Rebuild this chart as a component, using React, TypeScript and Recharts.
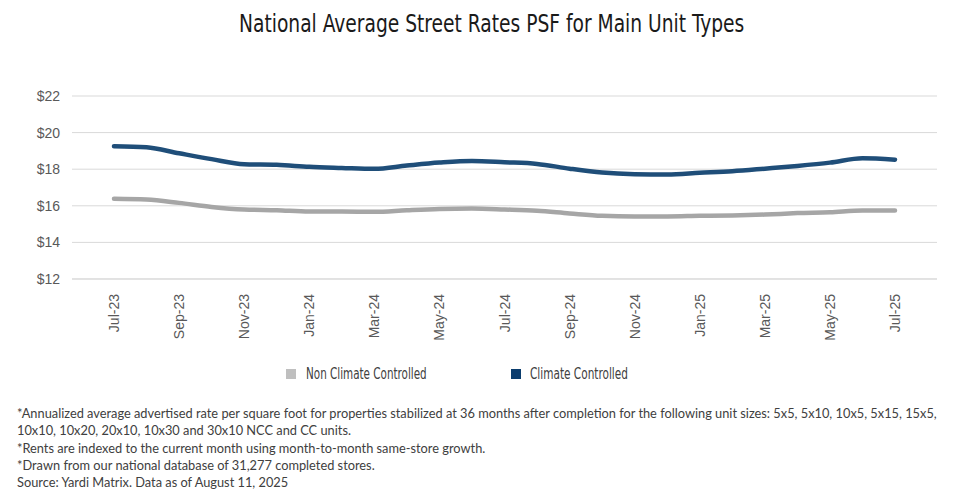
import React from "react";
import { LineChart, Line, XAxis, YAxis, CartesianGrid } from "recharts";

const months = [
  "Jul-23", "Aug-23", "Sep-23", "Oct-23", "Nov-23", "Dec-23",
  "Jan-24", "Feb-24", "Mar-24", "Apr-24", "May-24", "Jun-24",
  "Jul-24", "Aug-24", "Sep-24", "Oct-24", "Nov-24", "Dec-24",
  "Jan-25", "Feb-25", "Mar-25", "Apr-25", "May-25", "Jun-25", "Jul-25",
];

const nonClimate = [
  16.38, 16.34, 16.16, 15.94, 15.8, 15.76,
  15.69, 15.69, 15.67, 15.76, 15.83, 15.85,
  15.8, 15.73, 15.58, 15.45, 15.42, 15.42,
  15.45, 15.47, 15.52, 15.6, 15.65, 15.74, 15.74,
];

const climate = [
  19.26, 19.2, 18.87, 18.55, 18.27, 18.24,
  18.13, 18.07, 18.02, 18.2, 18.36, 18.45,
  18.38, 18.29, 18.03, 17.82, 17.73, 17.71,
  17.8, 17.89, 18.03, 18.18, 18.36, 18.6, 18.52,
];

const yTicks = [12, 14, 16, 18, 20, 22];

const titleText = "National Average Street Rates PSF for Main Unit Types";
const legendNames = ["Non Climate Controlled", "Climate Controlled"];
const notes = [
  "*Annualized average advertised rate per square foot for properties stabilized at 36 months after completion for the following unit sizes: 5x5, 5x10, 10x5, 5x15, 15x5,",
  "10x10, 10x20, 20x10, 10x30 and 30x10 NCC and CC units.",
  "*Rents are indexed to the current month using month-to-month same-store growth.",
  "*Drawn from our national database of 31,277 completed stores.",
  "Source: Yardi Matrix. Data as of August 11, 2025",
];

const data = months.map((m, i) => ({ month: m, ncc: nonClimate[i], cc: climate[i] }));

const XTick = (props: any) => {
  const { x, y, payload } = props;
  return (
    <text
      x={x}
      y={y}
      transform={`rotate(-90, ${x}, ${y})`}
      textAnchor="end"
      dominantBaseline="central"
      fill="#595959"
      fontSize={14}
      fontFamily="'Liberation Sans', Arial, sans-serif"
    >
      {payload.value}
    </text>
  );
};

const condensed = "'DejaVu Sans Condensed', 'Liberation Sans Narrow', sans-serif";

export default function App() {
  return (
    <div style={{ position: "absolute", left: 0, top: 0, width: 977, height: 495, background: "#fff", overflow: "hidden" }}>
      <div
        style={{
          position: "absolute",
          left: 239,
          width: 506,
          top: 8,
          fontFamily: condensed,
          fontSize: 25,
          color: "#1a1a1a",
          lineHeight: "32px",
          whiteSpace: "nowrap",
        }}
      >
        <span style={{ display: "inline-block", transform: "scaleX(0.83)", transformOrigin: "0 0" }}>{titleText}</span>
      </div>
      <div style={{ position: "absolute", left: 0, top: 0 }}>
        <LineChart
          width={977}
          height={360}
          data={data}
          margin={{ top: 96, right: 40, bottom: 11, left: 12 }}
        >
          <CartesianGrid vertical={false} stroke="#d9d9d9" strokeWidth={1} />
          <XAxis
            dataKey="month"
            scale="point"
            padding={{ left: 42, right: 42 }}
            interval={1}
            tick={<XTick />}
            tickLine={false}
            axisLine={{ stroke: "#d9d9d9" }}
            height={70}
            tickMargin={9}
          />
          <YAxis
            domain={[12, 22]}
            ticks={yTicks}
            tickFormatter={(v: number) => `$${v}`}
            tick={{ fill: "#595959", fontSize: 14, fontFamily: "'Liberation Sans', Arial, sans-serif" }}
            axisLine={false}
            tickLine={false}
            width={60}
            tickMargin={6}
          />
          <Line
            type="monotone"
            dataKey="ncc"
            stroke="#a6a6a6"
            strokeWidth={4.5}
            dot={false}
            strokeLinecap="round"
            isAnimationActive={false}
          />
          <Line
            type="monotone"
            dataKey="cc"
            stroke="#1f4e79"
            strokeWidth={4.5}
            dot={false}
            strokeLinecap="round"
            isAnimationActive={false}
          />
        </LineChart>
      </div>
      <span style={{ position: "absolute", left: 286, top: 369, width: 10, height: 10, background: "#bfbfbf" }} />
      <span
        style={{
          position: "absolute", left: 306, top: 365, fontFamily: condensed, fontSize: 15, color: "#404040",
          lineHeight: "18px", whiteSpace: "nowrap", transform: "scaleX(0.77)", transformOrigin: "0 0",
        }}
      >
        {legendNames[0]}
      </span>
      <span style={{ position: "absolute", left: 511, top: 369, width: 10, height: 10, background: "#0b3d6e" }} />
      <span
        style={{
          position: "absolute", left: 530, top: 365, fontFamily: condensed, fontSize: 15, color: "#404040",
          lineHeight: "18px", whiteSpace: "nowrap", transform: "scaleX(0.78)", transformOrigin: "0 0",
        }}
      >
        {legendNames[1]}
      </span>
      <div
        style={{
          position: "absolute",
          left: 17,
          top: 405,
          fontFamily: "Lato, 'Noto Sans', sans-serif",
          fontSize: 12.8,
          color: "#404040",
          lineHeight: "17.3px",
          whiteSpace: "nowrap",
        }}
      >
        {notes.map((n, i) => (
          <div key={i}>{n}</div>
        ))}
      </div>
    </div>
  );
}
